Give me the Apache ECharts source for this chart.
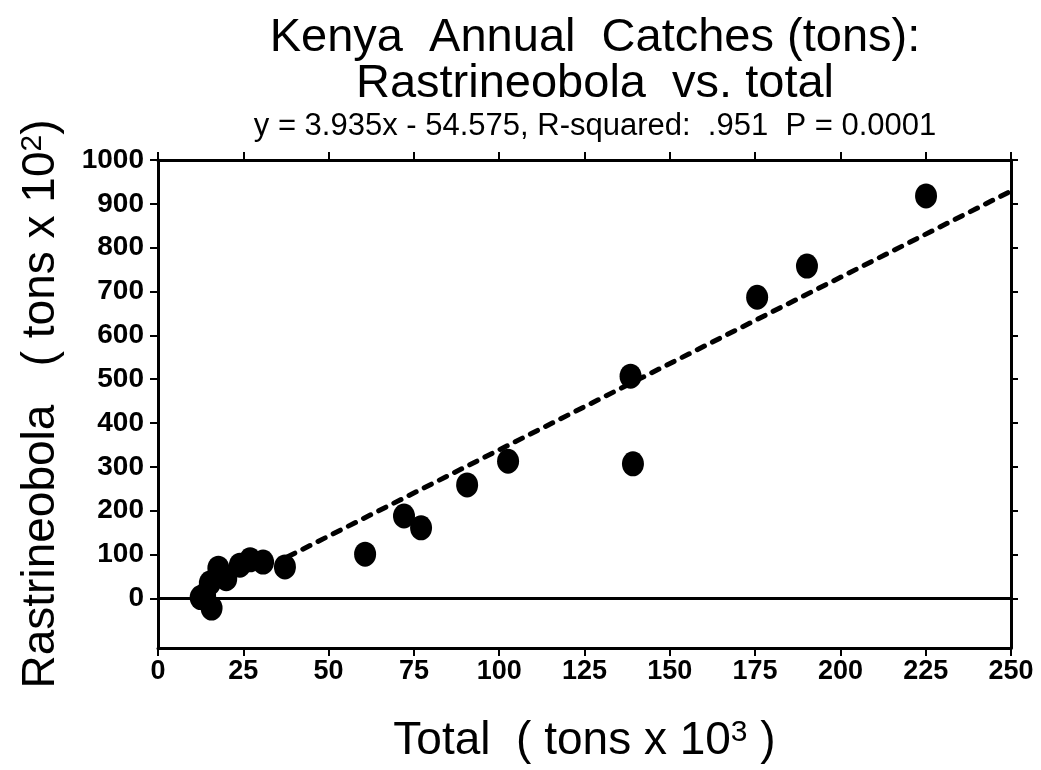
<!DOCTYPE html>
<html>
<head>
<meta charset="utf-8">
<script src="https://cdn.jsdelivr.net/npm/echarts@6/dist/echarts.min.js"></script>
<style>
  html, body { margin: 0; padding: 0; background: #fff; }
  #chart { width: 1041px; height: 770px; }
</style>
</head>
<body>
<div id="chart"></div>
<script>
// catches
var totalX = [12.5, 13.8, 15.7, 15.2, 17.7, 20, 24, 27, 30.8, 37.2, 60.7, 72.1, 77.1, 90.6, 102.6, 138.5, 139.2, 175.6, 190.2, 225.1];
var rastY  = [2, 8, -22, 35, 69, 45, 76, 88, 83, 72, 101, 188, 161, 259, 313, 507, 307, 687, 758, 918];
var fitSlope = 3.935;
var fitIntercept = -54.575;
var fitRangeX = [38, 250];
var zeroLineX = [0, 250];
var yTicks = [0, 100, 200, 300, 400, 500, 600, 700, 800, 900, 1000];

var font = '"Liberation Sans", Arial, sans-serif';

var points = totalX.map(function (x, i) { return [x, rastY[i]]; });
var fitLine = fitRangeX.map(function (x) { return [x, fitSlope * x + fitIntercept]; });
var zeroLine = zeroLineX.map(function (x) { return [x, 0]; });

var axisLine = { show: true, onZero: false, lineStyle: { color: '#000', width: 3 } };
var tick = { show: true, length: 8, lineStyle: { color: '#000', width: 2 } };
var nameRich = {
    a: { fontFamily: font, fontSize: 46, color: '#000' },
    s: { fontFamily: font, fontSize: 30, color: '#000', padding: [0, 0, 16, 0] }
};

var option = {
    animation: false,
    backgroundColor: '#fff',
    title: [{
        text: 'Kenya  Annual  Catches (tons):\nRastrineobola  vs. total',
        left: 590, top: 10, textAlign: 'center',
        textStyle: { fontFamily: font, fontSize: 47, fontWeight: 'normal', color: '#000', lineHeight: 46 }
    }, {
        text: 'y = 3.935x - 54.575, R-squared:  .951  P = 0.0001',
        left: 590, top: 106, textAlign: 'center',
        textStyle: { fontFamily: font, fontSize: 31, fontWeight: 'normal', color: '#000' }
    }],
    grid: { left: 158, right: 30, top: 160, bottom: 122, containLabel: false, outerBoundsMode: 'none' },
    xAxis: [{
        type: 'value', min: 0, max: 250, interval: 25, position: 'bottom',
        axisLine: axisLine, axisTick: tick, splitLine: { show: false },
        axisLabel: { color: '#000', fontFamily: font, fontSize: 27, fontWeight: 'bold', margin: 10 },
        name: '{a|Total  ( tons x 10}{s|3}{a| )}', nameLocation: 'middle', nameGap: 70,
        nameTextStyle: { rich: nameRich }
    }, {
        type: 'value', min: 0, max: 250, interval: 25, position: 'top',
        axisLine: axisLine, axisTick: tick, splitLine: { show: false },
        axisLabel: { show: false }
    }],
    yAxis: [{
        type: 'value', min: -113, max: 1000, position: 'left',
        axisLine: axisLine, splitLine: { show: false },
        axisTick: { show: true, length: 8, lineStyle: { color: '#000', width: 2 }, customValues: yTicks },
        axisLabel: {
            color: '#000', fontFamily: font, fontSize: 28, fontWeight: 'bold', margin: 14,
            customValues: yTicks,
            formatter: function (v) { return String(v); }
        },
        name: '{a|Rastrineobola   ( tons x 10}{s|2}{a|)}', nameLocation: 'middle', nameGap: 94, nameRotate: 90,
        nameTextStyle: { rich: nameRich }
    }, {
        type: 'value', min: -113, max: 1000, position: 'right',
        axisLine: axisLine, splitLine: { show: false },
        axisTick: { show: true, length: 7, lineStyle: { color: '#000', width: 2 }, customValues: yTicks },
        axisLabel: { show: false }
    }],
    series: [{
        type: 'line', data: zeroLine, symbol: 'none', silent: true,
        lineStyle: { color: '#000', width: 3 }
    }, {
        type: 'line', data: fitLine, symbol: 'none', silent: true,
        lineStyle: { color: '#000', width: 5, type: [8, 9], cap: 'round' }
    }, {
        type: 'scatter', data: points, symbol: 'circle', symbolSize: [22, 25],
        itemStyle: { color: '#000', opacity: 1 }
    }]
};

var myChart = echarts.init(document.getElementById('chart'));
myChart.setOption(option);
</script>
</body>
</html>
